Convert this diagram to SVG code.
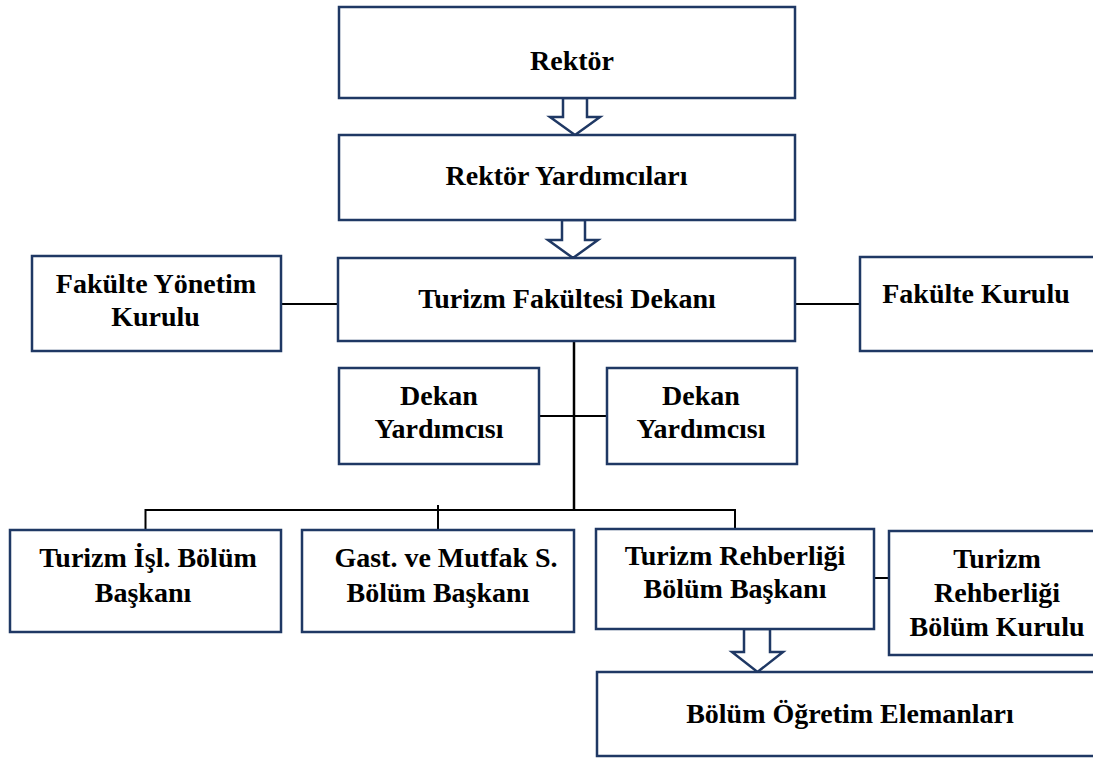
<svg xmlns="http://www.w3.org/2000/svg" width="1093" height="758" viewBox="0 0 1093 758">
<style>
.box{fill:#fff;stroke:#1f3864;stroke-width:2.5}
.arrow{fill:#fff;stroke:#1f3864;stroke-width:2.5;stroke-linejoin:miter}
.conn{stroke:#000;stroke-width:2;fill:none}
.t{font-family:"Liberation Serif","Times New Roman",serif;font-weight:bold;font-size:28px;fill:#000;text-anchor:middle}
</style>
<rect width="1093" height="758" fill="#fff"/>
<g id="connectors">
<line class="conn" x1="281" y1="304" x2="338" y2="304"/>
<line class="conn" x1="795" y1="304" x2="860" y2="304"/>
<line class="conn" x1="574" y1="341" x2="574" y2="511" style="stroke-width:2.5"/>
<line class="conn" x1="539" y1="416" x2="607" y2="416"/>
<polyline class="conn" points="145.5,530 145.5,510 735,510 735,529"/>
<line class="conn" x1="438" y1="505" x2="438" y2="530"/>
<line class="conn" x1="874" y1="578" x2="889" y2="578"/>
<polygon class="arrow" points="563,98 587,98 587,117 600,117 575,135 550,117 563,117"/>
<polygon class="arrow" points="562,220 585,220 585,240 598,240 573,258 548,240 562,240"/>
<polygon class="arrow" points="744,629 770,629 770,652 783,652 757.5,672 732,652 744,652"/>
</g>
<g id="rektor">
<rect class="box" x="339" y="7" width="456" height="91"/>
<text class="t" x="572" y="70">Rektör</text>
</g>
<g id="rektor-yardimcilari">
<rect class="box" x="339" y="135" width="456" height="85"/>
<text class="t" x="566.5" y="185">Rektör Yardımcıları</text>
</g>
<g id="dekan">
<rect class="box" x="338" y="258" width="457" height="83"/>
<text class="t" x="567" y="308">Turizm Fakültesi Dekanı</text>
</g>
<g id="fakulte-yonetim-kurulu">
<rect class="box" x="32" y="256" width="249" height="95"/>
<text class="t" x="156" y="293">Fakülte Yönetim</text>
<text class="t" x="155.5" y="326">Kurulu</text>
</g>
<g id="fakulte-kurulu">
<rect class="box" x="860" y="257" width="245" height="94"/>
<text class="t" x="976" y="303">Fakülte Kurulu</text>
</g>
<g id="dekan-yardimcisi-1">
<rect class="box" x="339" y="368" width="200" height="96"/>
<text class="t" x="439" y="405">Dekan</text>
<text class="t" x="439" y="438">Yardımcısı</text>
</g>
<g id="dekan-yardimcisi-2">
<rect class="box" x="607" y="368" width="190" height="96"/>
<text class="t" x="701" y="405">Dekan</text>
<text class="t" x="701" y="438">Yardımcısı</text>
</g>
<g id="turizm-isl">
<rect class="box" x="10" y="530" width="271" height="102"/>
<text class="t" x="148" y="567">Turizm İşl. Bölüm</text>
<text class="t" x="143" y="602">Başkanı</text>
</g>
<g id="gast">
<rect class="box" x="302" y="530" width="272" height="102"/>
<text class="t" x="446" y="567">Gast. ve Mutfak S.</text>
<text class="t" x="438" y="602">Bölüm Başkanı</text>
</g>
<g id="turizm-rehberligi">
<rect class="box" x="596" y="529" width="278" height="100"/>
<text class="t" x="735" y="565">Turizm Rehberliği</text>
<text class="t" x="735" y="598">Bölüm Başkanı</text>
</g>
<g id="turizm-rehberligi-kurulu">
<rect class="box" x="889" y="531" width="216" height="124"/>
<text class="t" x="997" y="568">Turizm</text>
<text class="t" x="997" y="602">Rehberliği</text>
<text class="t" x="997" y="636">Bölüm Kurulu</text>
</g>
<g id="bolum-ogretim">
<rect class="box" x="597" y="672" width="508" height="84"/>
<text class="t" x="850" y="723">Bölüm Öğretim Elemanları</text>
</g>
</svg>
